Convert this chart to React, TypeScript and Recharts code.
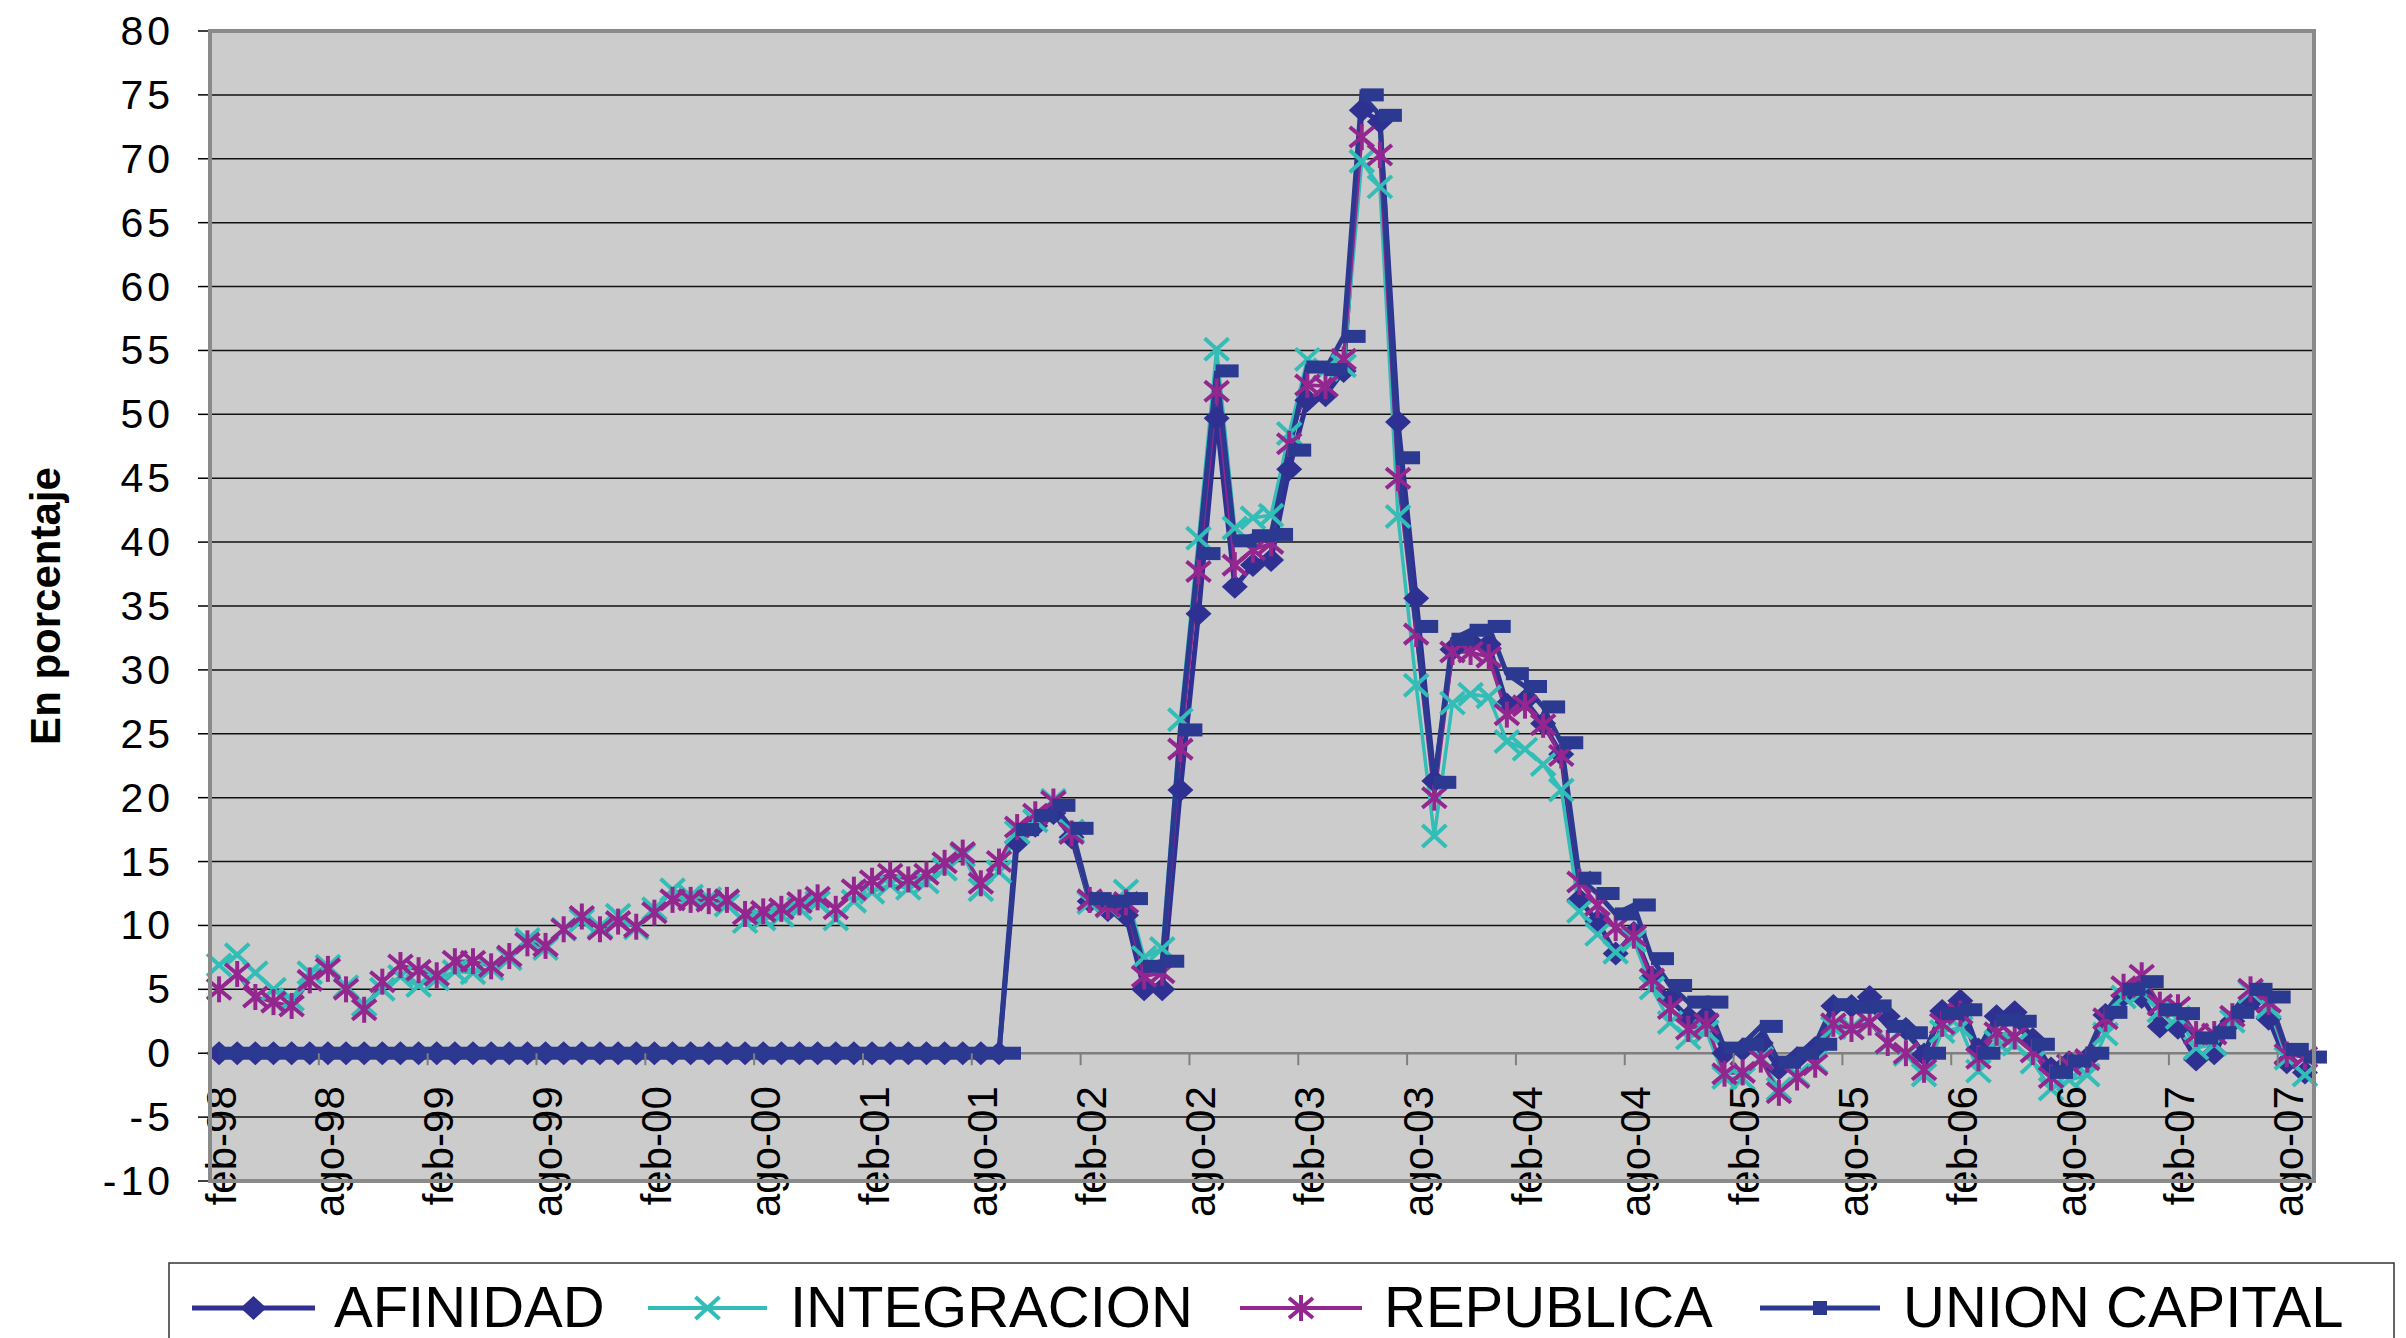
import React from "react";
import { LineChart, Line, XAxis, YAxis, CartesianGrid, ReferenceLine } from "recharts";

// monthly categories, feb-98 .. sep-07
const CATEGORIES = [
  "feb-98", "mar-98", "abr-98", "may-98", "jun-98", "jul-98", "ago-98", "sep-98", "oct-98", "nov-98", "dic-98",
  "ene-99", "feb-99", "mar-99", "abr-99", "may-99", "jun-99", "jul-99", "ago-99", "sep-99", "oct-99", "nov-99", "dic-99",
  "ene-00", "feb-00", "mar-00", "abr-00", "may-00", "jun-00", "jul-00", "ago-00", "sep-00", "oct-00", "nov-00", "dic-00",
  "ene-01", "feb-01", "mar-01", "abr-01", "may-01", "jun-01", "jul-01", "ago-01", "sep-01", "oct-01", "nov-01", "dic-01",
  "ene-02", "feb-02", "mar-02", "abr-02", "may-02", "jun-02", "jul-02", "ago-02", "sep-02", "oct-02", "nov-02", "dic-02",
  "ene-03", "feb-03", "mar-03", "abr-03", "may-03", "jun-03", "jul-03", "ago-03", "sep-03", "oct-03", "nov-03", "dic-03",
  "ene-04", "feb-04", "mar-04", "abr-04", "may-04", "jun-04", "jul-04", "ago-04", "sep-04", "oct-04", "nov-04", "dic-04",
  "ene-05", "feb-05", "mar-05", "abr-05", "may-05", "jun-05", "jul-05", "ago-05", "sep-05", "oct-05", "nov-05", "dic-05",
  "ene-06", "feb-06", "mar-06", "abr-06", "may-06", "jun-06", "jul-06", "ago-06", "sep-06", "oct-06", "nov-06", "dic-06",
  "ene-07", "feb-07", "mar-07", "abr-07", "may-07", "jun-07", "jul-07", "ago-07", "sep-07",
];

const X_TICKS = [
  "feb-98", "ago-98", "feb-99", "ago-99", "feb-00", "ago-00", "feb-01", "ago-01", "feb-02", "ago-02",
  "feb-03", "ago-03", "feb-04", "ago-04", "feb-05", "ago-05", "feb-06", "ago-06", "feb-07", "ago-07",
];

const Y_TICKS = [-10, -5, 0, 5, 10, 15, 20, 25, 30, 35, 40, 45, 50, 55, 60, 65, 70, 75, 80];

const AFINIDAD = [
  0, 0, 0, 0, 0, 0, 0, 0, 0, 0, 0,
  0, 0, 0, 0, 0, 0, 0, 0, 0, 0, 0, 0,
  0, 0, 0, 0, 0, 0, 0, 0, 0, 0, 0, 0,
  0, 0, 0, 0, 0, 0, 0, 0, 0, 16.5, 17.8, 18.8,
  16.9, 11.9, 11.2, 10.8, 5.0, 5.0, 20.6, 34.4, 49.7, 36.5, 38.2, 38.6,
  45.7, 51.1, 51.5, 53.4, 73.8, 72.9, 49.4, 35.6, 21.3, 31.6, 32.2, 32.0,
  27.3, 27.6, 25.8, 23.4, 12.0, 10.3, 7.8, 9.4, 5.9, 4.2, 2.8, 2.9,
  0.0, 0.3, 0.8, -1.2, -0.4, 0.4, 3.7, 3.7, 4.4, 2.9, 1.9, -0.1,
  3.3, 4.1, 0.3, 2.9, 3.2, 1.1, -1.2, -0.7, -0.4, 3.0, 4.5, 4.4,
  2.1, 2.0, -0.5, 0.0, 2.5, 4.0, 2.7, -0.7, -1.5,
];

const INTEGRACION = [
  6.9, 7.7, 6.3, 5.0, 4.2, 6.3, 6.8, 5.2, 3.8, 5.0, 6.0,
  5.3, 5.8, 6.4, 6.3, 6.6, 7.4, 8.9, 8.2, 9.7, 10.4, 9.9, 10.8,
  9.8, 11.3, 12.8, 12.3, 12.1, 11.6, 10.3, 10.5, 10.8, 11.3, 11.8, 10.5,
  11.9, 12.6, 13.2, 12.9, 13.4, 14.4, 15.5, 12.8, 14.2, 17.3, 18.2, 19.8,
  17.4, 11.8, 11.5, 12.7, 7.5, 8.2, 26.1, 40.3, 55.1, 41.1, 41.9, 42.1,
  48.5, 54.3, 53.5, 53.8, 69.8, 67.8, 42.0, 28.8, 17.0, 27.4, 28.1, 27.9,
  24.4, 23.8, 22.6, 20.6, 11.1, 9.3, 7.9, 8.8, 5.1, 2.4, 1.2, 1.7,
  -1.9, -2.0, -0.4, -2.8, -1.7, -0.7, 2.0, 2.0, 2.4, 0.8, -0.1, -1.7,
  1.7, 2.0, -1.4, 0.9, 0.7, -0.7, -2.8, -2.1, -1.7, 1.5, 4.4, 4.8,
  3.3, 2.8, 0.4, 0.7, 2.5, 4.8, 3.6, -0.4, -1.7,
];

const REPUBLICA = [
  5.0, 6.2, 4.4, 4.0, 3.7, 5.7, 6.6, 5.0, 3.4, 5.6, 6.9,
  6.5, 6.1, 7.2, 7.2, 6.8, 7.6, 8.6, 8.4, 9.7, 10.7, 9.7, 10.3,
  9.9, 11.0, 12.0, 12.0, 11.9, 12.0, 10.9, 11.1, 11.3, 11.8, 12.2, 11.3,
  12.8, 13.5, 14.0, 13.6, 14.0, 14.9, 15.7, 13.3, 15.0, 17.7, 18.7, 19.7,
  17.2, 12.0, 11.5, 11.8, 6.0, 6.3, 23.8, 37.7, 51.8, 38.2, 39.4, 39.9,
  47.7, 52.3, 52.2, 54.3, 71.7, 70.3, 45.0, 32.8, 20.0, 31.4, 31.4, 31.0,
  26.5, 27.2, 25.7, 23.3, 13.4, 11.6, 9.8, 9.2, 5.8, 3.5, 1.9, 2.3,
  -1.6, -1.5, -0.5, -3.1, -1.9, -0.9, 2.3, 1.9, 2.4, 0.8, 0.0, -1.3,
  2.3, 3.1, -0.4, 1.6, 1.3, 0.1, -1.9, -0.9, -0.5, 2.7, 5.2, 6.1,
  3.8, 3.6, 1.5, 1.5, 2.9, 5.0, 4.0, -0.1, -0.3,
];

const UNION_CAPITAL = [
  0, 0, 0, 0, 0, 0, 0, 0, 0, 0, 0,
  0, 0, 0, 0, 0, 0, 0, 0, 0, 0, 0, 0,
  0, 0, 0, 0, 0, 0, 0, 0, 0, 0, 0, 0,
  0, 0, 0, 0, 0, 0, 0, 0, 0, 17.5, 18.6, 19.4,
  17.6, 12.1, 11.9, 12.1, 6.8, 7.2, 25.3, 39.1, 53.4, 40.1, 40.5, 40.6,
  47.2, 53.7, 53.5, 56.1, 75.0, 73.4, 46.6, 33.4, 21.2, 32.4, 33.1, 33.4,
  29.7, 28.7, 27.1, 24.3, 13.7, 12.5, 10.9, 11.6, 7.4, 5.3, 4.0, 4.0,
  0.4, 0.7, 2.1, -0.7, 0.0, 0.7, 3.8, 3.6, 3.7, 2.1, 1.6, 0.0,
  3.1, 3.4, 0.0, 2.6, 2.5, 0.7, -1.5, -0.6, 0.0, 3.2, 5.0, 5.6,
  3.4, 3.1, 1.2, 1.6, 3.2, 5.0, 4.4, 0.3, -0.3,
];

const data = CATEGORIES.map((mes, i) => ({
  mes,
  afinidad: AFINIDAD[i],
  integracion: INTEGRACION[i],
  republica: REPUBLICA[i],
  unionCapital: UNION_CAPITAL[i],
}));

const FONT = "'Liberation Sans', Arial, sans-serif";
const AF_COLOR = "#2e3192";
const INT_COLOR = "#33bdb7";
const REP_COLOR = "#93278f";
const UC_COLOR = "#2b3990";

// layout (wrapper coordinates, the body margin is 8px)
const W = 2390;
const H = 1210;
const PLOT_LEFT = 202;
const PLOT_TOP = 23;
const PLOT_RIGHT = 2306;
const PLOT_BOTTOM = 1173;
const Y_MIN = -10;
const Y_MAX = 80;
const STEP = (PLOT_RIGHT - PLOT_LEFT) / CATEGORIES.length;
const ZERO_Y = PLOT_TOP + ((PLOT_BOTTOM - PLOT_TOP) * Y_MAX) / (Y_MAX - Y_MIN);

const diamond = (cx: number, cy: number, key?: string) => (
  <polygon key={key} points={`${cx},${cy - 12} ${cx + 13},${cy} ${cx},${cy + 12} ${cx - 13},${cy}`} fill={AF_COLOR} />
);

const cross = (cx: number, cy: number, key?: string) => (
  <g key={key} stroke={INT_COLOR} strokeWidth={4}>
    <line x1={cx - 12} y1={cy - 11} x2={cx + 12} y2={cy + 11} />
    <line x1={cx - 12} y1={cy + 11} x2={cx + 12} y2={cy - 11} />
  </g>
);

const star = (cx: number, cy: number, key?: string) => (
  <g key={key} stroke={REP_COLOR} strokeWidth={4}>
    <line x1={cx - 12} y1={cy - 10} x2={cx + 12} y2={cy + 10} />
    <line x1={cx - 12} y1={cy + 10} x2={cx + 12} y2={cy - 10} />
    <line x1={cx} y1={cy - 13} x2={cx} y2={cy + 13} />
  </g>
);

const DiamondDot = (p: any) => (p.cx == null ? <g key={`a${p.index}`} /> : diamond(p.cx, p.cy, `a${p.index}`));
const CrossDot = (p: any) => (p.cx == null ? <g key={`i${p.index}`} /> : cross(p.cx, p.cy, `i${p.index}`));
const StarDot = (p: any) => (p.cx == null ? <g key={`r${p.index}`} /> : star(p.cx, p.cy, `r${p.index}`));
const SquareDot = (p: any) =>
  p.cx == null ? (
    <g key={`u${p.index}`} />
  ) : (
    <rect key={`u${p.index}`} x={p.cx - 1} y={p.cy - 6.5} width={23} height={13} fill={UC_COLOR} />
  );

const XTick = (props: any) => {
  const { x, payload } = props;
  return (
    <g>
      <line x1={x - STEP / 2} x2={x - STEP / 2} y1={ZERO_Y} y2={ZERO_Y + 12} stroke="#7f7f7f" strokeWidth={2} />
      <text
        transform={`translate(${x + 2},${ZERO_Y + 33}) rotate(-90)`}
        textAnchor="end"
        dominantBaseline="central"
        fontSize={42}
        fontFamily={FONT}
        fill="#000"
      >
        {payload.value}
      </text>
    </g>
  );
};

const YTick = (props: any) => {
  const { x, y, payload } = props;
  return (
    <text x={x + 4} y={y} textAnchor="end" dominantBaseline="central" fontSize={41} letterSpacing={4} fontFamily={FONT} fill="#000">
      {payload.value}
    </text>
  );
};

const LEGEND_ITEMS = [
  { name: "AFINIDAD", color: AF_COLOR, x1: 184, x2: 307, text: 326, marker: "diamond" },
  { name: "INTEGRACION", color: INT_COLOR, x1: 640, x2: 759, text: 782, marker: "cross" },
  { name: "REPUBLICA", color: REP_COLOR, x1: 1232, x2: 1354, text: 1376, marker: "star" },
  { name: "UNION CAPITAL", color: UC_COLOR, x1: 1752, x2: 1872, text: 1895, marker: "square" },
];

const Overlay = () => {
  const ly = 1300;
  return (
    <svg width={W} height={1330} style={{ position: "absolute", left: 0, top: 0, pointerEvents: "none" }}>
      <rect
        x={PLOT_LEFT}
        y={PLOT_TOP}
        width={PLOT_RIGHT - PLOT_LEFT}
        height={PLOT_BOTTOM - PLOT_TOP}
        fill="none"
        stroke="#8a8a8a"
        strokeWidth={4}
      />
      <text
        transform="translate(37,598) rotate(-90)"
        textAnchor="middle"
        dominantBaseline="central"
        fontSize={42}
        fontWeight="bold"
        fontFamily={FONT}
        fill="#000"
      >
        En porcentaje
      </text>
      <rect x={161} y={1255} width={2225} height={120} fill="#fff" stroke="#333" strokeWidth={1.5} />
      {LEGEND_ITEMS.map((it) => {
        const mx = (it.x1 + it.x2) / 2;
        return (
          <g key={it.name}>
            <line x1={it.x1} x2={it.x2} y1={ly} y2={ly} stroke={it.color} strokeWidth={it.marker === "cross" || it.marker === "star" ? 4 : 5} />
            {it.marker === "diamond" && diamond(mx, ly)}
            {it.marker === "cross" && cross(mx, ly)}
            {it.marker === "star" && star(mx, ly)}
            {it.marker === "square" && <rect x={mx - 7} y={ly - 7} width={14} height={14} fill={UC_COLOR} />}
            <text x={it.text} y={1319} fontSize={58} fontFamily={FONT} fill="#000">
              {it.name}
            </text>
          </g>
        );
      })}
    </svg>
  );
};

export default function App() {
  return (
    <div style={{ position: "relative", width: W, height: 1330, background: "#fff" }}>
      <svg width={W} height={H} style={{ position: "absolute", left: 0, top: 0 }}>
        <rect x={PLOT_LEFT} y={PLOT_TOP} width={PLOT_RIGHT - PLOT_LEFT} height={PLOT_BOTTOM - PLOT_TOP} fill="#cccccc" />
      </svg>
      <div style={{ position: "absolute", left: 0, top: 0 }}>
        <LineChart width={W} height={H} data={data} margin={{ top: PLOT_TOP, right: W - PLOT_RIGHT, bottom: 0, left: 0 }}>
          <CartesianGrid vertical={false} stroke="#111" strokeWidth={1.5} />
          <XAxis
            dataKey="mes"
            ticks={X_TICKS}
            interval={0}
            height={H - PLOT_BOTTOM}
            padding={{ left: STEP / 2, right: STEP / 2 }}
            axisLine={false}
            tickLine={false}
            tickSize={0}
            tick={XTick}
          />
          <YAxis
            type="number"
            domain={[Y_MIN, Y_MAX]}
            ticks={Y_TICKS}
            interval={0}
            width={PLOT_LEFT}
            axisLine={false}
            tickLine={{ stroke: "#000", strokeWidth: 1.5 }}
            tickSize={12}
            tickMargin={28}
            tick={YTick}
          />
          <ReferenceLine y={0} stroke="#7f7f7f" strokeWidth={2.5} />
          <Line dataKey="afinidad" stroke={AF_COLOR} strokeWidth={5} dot={DiamondDot} activeDot={false} isAnimationActive={false} />
          <Line dataKey="integracion" stroke={INT_COLOR} strokeWidth={3.5} dot={CrossDot} activeDot={false} isAnimationActive={false} />
          <Line dataKey="republica" stroke={REP_COLOR} strokeWidth={3.5} dot={StarDot} activeDot={false} isAnimationActive={false} />
          <Line dataKey="unionCapital" stroke={UC_COLOR} strokeWidth={5} dot={SquareDot} activeDot={false} isAnimationActive={false} />
        </LineChart>
      </div>
      <Overlay />
    </div>
  );
}
